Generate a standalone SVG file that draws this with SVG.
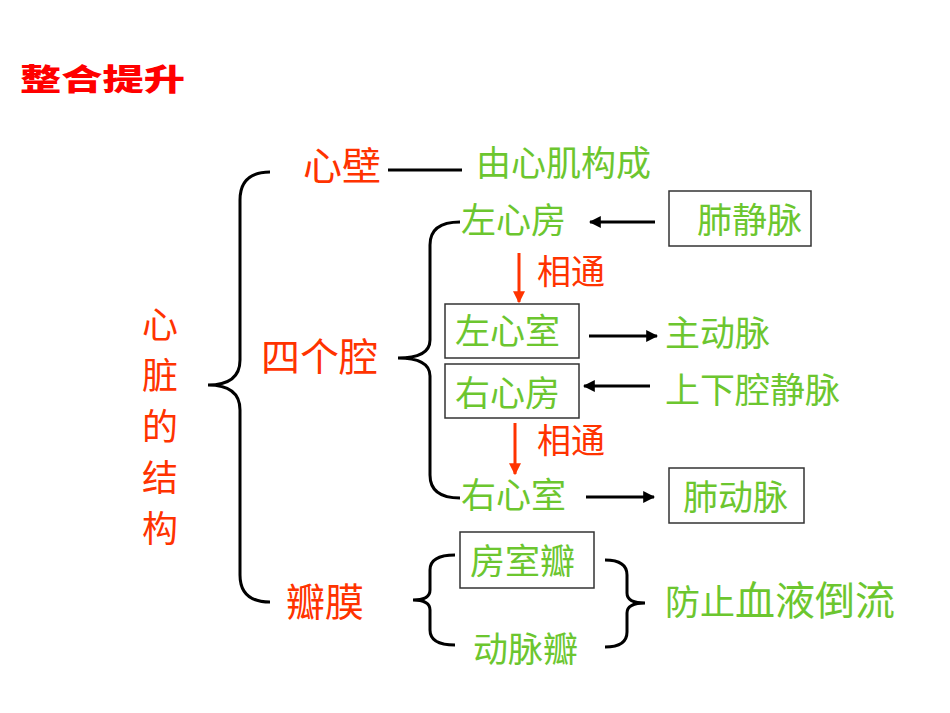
<svg xmlns="http://www.w3.org/2000/svg" width="950" height="713" viewBox="0 0 950 713">
<style>
text{font-family:"Noto Sans CJK SC","Liberation Sans",sans-serif}
.g{fill:#6cc62f;font-size:35px}
.r{fill:#ff3300;font-size:39px}
.v{fill:#ff3300;font-size:36px}
.box{fill:none;stroke:#333;stroke-width:1.5}
.ln{fill:none;stroke:#000;stroke-width:3}
.ra{stroke:#ff3300;stroke-width:3}
</style>
<defs>
<marker id="ab" viewBox="0 0 10 10" refX="9" refY="5" markerWidth="4" markerHeight="4" orient="auto"><path d="M0,0L10,5L0,10z" fill="#000"/></marker>
<marker id="ar" viewBox="0 0 10 10" refX="9" refY="5" markerWidth="4" markerHeight="4" orient="auto"><path d="M0,0L10,5L0,10z" fill="#ff3300"/></marker>
</defs>
<text x="20" y="90" textLength="165" lengthAdjust="spacingAndGlyphs" style="fill:#ff0000;font-size:30px;font-weight:900">整合提升</text>
<g id="title"><text class="v" x="160" y="338" text-anchor="middle">心</text><text class="v" x="160" y="389" text-anchor="middle">脏</text><text class="v" x="160" y="440" text-anchor="middle">的</text><text class="v" x="160" y="491" text-anchor="middle">结</text><text class="v" x="160" y="542" text-anchor="middle">构</text></g>
<g id="n-xinbi"><text class="r" x="303" y="180">心壁</text></g>
<g id="n-jigou"><text class="g" x="476" y="176">由心肌构成</text></g>
<g id="n-sigeqiang"><text class="r" x="261" y="371">四个腔</text></g>
<g id="n-banmo"><text class="r" x="286" y="616">瓣膜</text></g>
<g id="n-zxf"><text class="g" x="461" y="233">左心房</text></g>
<g id="n-fjm"><rect class="box" x="669" y="191" width="142" height="55"/><text class="g" x="697" y="233">肺静脉</text></g>
<g id="n-zxs"><rect class="box" x="445" y="304" width="134" height="54"/><text class="g" x="455" y="344">左心室</text></g>
<g id="n-zdm"><text class="g" x="665" y="346">主动脉</text></g>
<g id="n-yxf"><rect class="box" x="445" y="364" width="134" height="54"/><text class="g" x="455" y="406">右心房</text></g>
<g id="n-sxq"><text class="g" x="665" y="403">上下腔静脉</text></g>
<g id="n-yxs"><text class="g" x="461" y="508">右心室</text></g>
<g id="n-fdm"><rect class="box" x="669" y="468" width="135" height="55"/><text class="g" x="683" y="510">肺动脉</text></g>
<g id="n-fsb"><rect class="box" x="460" y="532" width="134" height="56"/><text class="g" x="470" y="574">房室瓣</text></g>
<g id="n-dmb"><text class="g" x="473" y="662">动脉瓣</text></g>
<g id="n-fz"><text class="g" x="665" y="615">防止<tspan style="font-size:40px">血液倒流</tspan></text></g>
<g id="connectors">
<path class="ln" d="M270,172 Q240,172 240,200 L240,360 Q240,385 208,385 Q240,385 240,410 L240,575 Q240,602 270,602"/>
<line class="ln" x1="388" y1="170" x2="462" y2="170"/>
<path class="ln" d="M460,222 Q430,222 430,245 L430,340 Q430,358 398,358 Q430,358 430,376 L430,475 Q430,498 460,498"/>
<line class="ln" x1="655" y1="222" x2="590" y2="222" marker-end="url(#ab)"/>
<line class="ln" x1="589" y1="336" x2="657" y2="336" marker-end="url(#ab)"/>
<line class="ln" x1="650" y1="386" x2="584" y2="386" marker-end="url(#ab)"/>
<line class="ln" x1="586" y1="497" x2="654" y2="497" marker-end="url(#ab)"/>
<line class="ra" x1="519" y1="253" x2="519" y2="302" marker-end="url(#ar)"/>
<text class="r" x="537" y="284" style="font-size:34px">相通</text>
<line class="ra" x1="515" y1="423" x2="515" y2="474" marker-end="url(#ar)"/>
<text class="r" x="537" y="453" style="font-size:34px">相通</text>
<path class="ln" d="M455,555 Q430,555 430,570 L430,590 Q430,600 413,600 Q430,600 430,610 L430,630 Q430,645 455,645"/>
<path class="ln" d="M605,560 Q627,560 627,575 L627,593 Q627,603 645,603 Q627,603 627,613 L627,632 Q627,647 605,647"/>
</g>
</svg>
